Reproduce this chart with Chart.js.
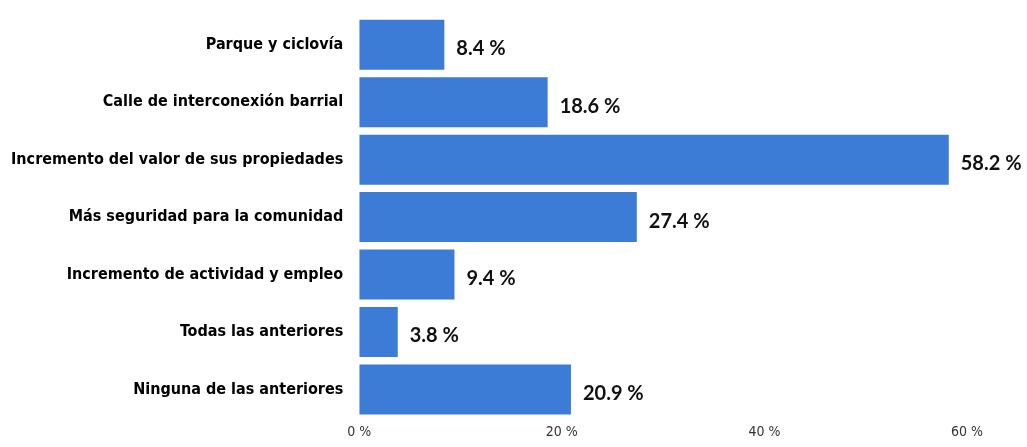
<!DOCTYPE html>
<html>
<head>
<meta charset="utf-8">
<script src="https://cdn.jsdelivr.net/npm/chart.js@4/dist/chart.umd.min.js"></script>
<style>
  html, body { margin: 0; padding: 0; background: #fff; }
  #wrap { width: 1027px; height: 447px; position: relative; }
</style>
</head>
<body>
<div id="wrap"><canvas id="barChart"></canvas></div>
<script>
var categories = [
    "Parque y ciclovía",
    "Calle de interconexión barrial",
    "Incremento del valor de sus propiedades",
    "Más seguridad para la comunidad",
    "Incremento de actividad y empleo",
    "Todas las anteriores",
    "Ninguna de las anteriores"
];
var percentages = [8.4, 18.6, 58.2, 27.4, 9.4, 3.8, 20.9];
var tickValues = [0, 20, 40, 60];

var labelFont = "'Liberation Sans Narrow', 'DejaVu Sans Condensed', sans-serif";

// draws "8.4 %" etc. right of each bar
var valueLabels = {
    id: "valueLabels",
    afterDatasetsDraw: function(chart) {
        var ctx = chart.ctx;
        var meta = chart.getDatasetMeta(0);
        ctx.save();
        ctx.font = "bold 20px Lato, sans-serif";
        ctx.fillStyle = "#111";
        ctx.textBaseline = "middle";
        ctx.textAlign = "left";
        meta.data.forEach(function(bar, i) {
            ctx.fillText(percentages[i].toFixed(1) + " %", bar.x + 12, bar.y + 4);
        });
        ctx.restore();
    }
};

function makeChart() {
    new Chart(document.getElementById("barChart"), {
        "type": "bar",
        "data": {
            "labels": categories,
            "datasets": [{
                "data": percentages,
                "backgroundColor": "#3c7bd6",
                "borderWidth": 0,
                "barPercentage": 0.87,
                "categoryPercentage": 1.0
            }]
        },
        "options": {
            "indexAxis": "y",
            "responsive": true,
            "maintainAspectRatio": false,
            "animation": false,
            "layout": { "padding": { "left": -5, "right": 60, "top": 16, "bottom": 0 } },
            "plugins": {
                "legend": { "display": false },
                "tooltip": { "enabled": false }
            },
            "scales": {
                "x": {
                    "min": 0,
                    "max": 60,
                    "afterBuildTicks": function(axis) {
                        axis.ticks = tickValues.map(function(v) { return { value: v }; });
                    },
                    "grid": { "display": false, "drawTicks": false },
                    "border": { "display": false },
                    "ticks": {
                        "color": "#333",
                        "padding": 6,
                        "maxRotation": 0,
                        "font": { "family": labelFont, "size": 14 },
                        "callback": function(v) { return v + " %"; }
                    }
                },
                "y": {
                    "afterFit": function(axis) {
                        axis.paddingTop = 0;
                        axis.paddingBottom = 0;
                    },
                    "grid": { "display": false, "drawTicks": false },
                    "border": { "display": false },
                    "ticks": {
                        "color": "#000",
                        "padding": 16,
                        "font": { "family": labelFont, "size": 16, "weight": "bold" }
                    }
                }
            }
        },
        "plugins": [valueLabels]
    });
}

Promise.all([
    document.fonts.load("bold 20px Lato"),
    document.fonts.load("bold 16px 'Liberation Sans Narrow'"),
    document.fonts.load("14px 'Liberation Sans Narrow'")
]).then(makeChart, makeChart);
</script>
</body>
</html>
